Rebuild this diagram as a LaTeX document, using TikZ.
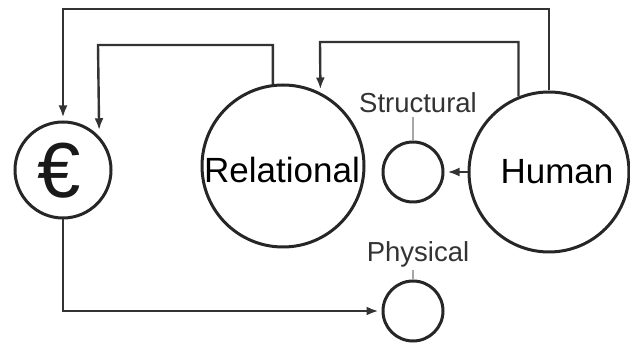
\documentclass[tikz,border=0pt]{standalone}
\usepackage{fontspec}
\setmainfont{Liberation Sans}
\usetikzlibrary{arrows.meta}
\begin{document}
\begin{tikzpicture}[x=1pt,y=-1pt,
  capcircle/.style={circle,draw=black!85,line width=3pt,inner sep=0pt},
  conn/.style={draw=black!80,line width=2.4pt},
  arr/.style={conn,-{Latex[length=12pt,width=9pt]},shorten >=3pt},
  big/.style={font=\fontsize{35}{38}\selectfont,text=black},
  lab/.style={font=\fontsize{27.5}{30}\selectfont,text=black!80},
  tick/.style={draw=black!35,line width=1.2pt}]
\useasboundingbox (0,0) rectangle (630,347);
\node[capcircle,minimum size=96pt] (euro) at (63,170) {};
\node[font=\fontsize{78}{82}\selectfont,text=black!90] (eurosym) at (59,171) {€};
\node[capcircle,minimum size=162pt] (rel) at (283,166) {};
\node[big] (reltxt) at (282,170) {Relational};
\node[capcircle,minimum size=160pt] (hum) at (549,172) {};
\node[big] (humtxt) at (557,172) {Human};
\node[capcircle,minimum size=60pt] (str) at (413,172) {};
\node[capcircle,minimum size=60pt] (phy) at (413,311) {};
\node[lab] (strl) at (418,103) {Structural};
\node[lab] (phyl) at (418,254) {Physical};
\draw[tick] (str.north) -- (str.north |- strl.south);
\draw[tick] (phy.north) -- (phy.north |- phyl.south);
\coordinate (k1) at (63,9);
\coordinate (k2) at (98,45);
\coordinate (k3) at (320,42);
\draw[arr] (hum.north) |- (k1) -- (euro.north);
\draw[arr,shorten >=6pt] (rel.97) |- (k2) -- (euro.43);
\draw[arr] (hum.112) |- (k3) -- (rel.63);
\draw[arr] (hum.west) -- (str.east);
\draw[arr] (euro.south) |- (phy.west);
\end{tikzpicture}
\end{document}
